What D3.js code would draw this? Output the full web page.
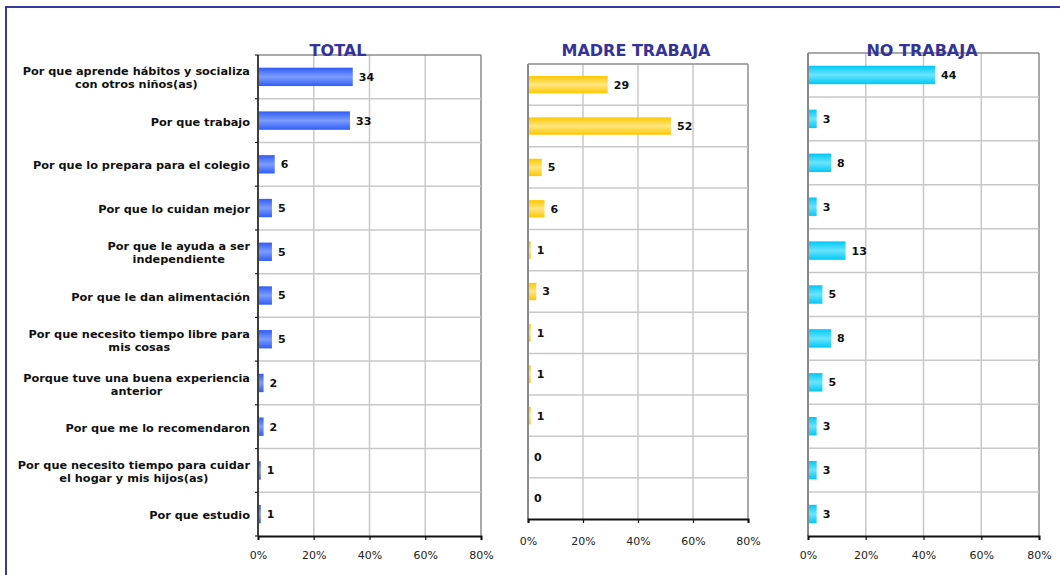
<!DOCTYPE html>
<html><head><meta charset="utf-8">
<script src="https://cdn.jsdelivr.net/npm/d3@7"></script>
<style>body{margin:0;background:#fff;} svg{display:block;}</style>
</head><body>
<svg id="c" width="1060" height="575"></svg>
<script>
const categories = [
  ["Por que aprende hábitos y socializa","con otros niños(as)"],
  ["Por que trabajo"],
  ["Por que lo prepara para el colegio"],
  ["Por que lo cuidan mejor"],
  ["Por que le ayuda a ser","independiente"],
  ["Por que le dan alimentación"],
  ["Por que necesito tiempo libre para","mis cosas"],
  ["Porque tuve una buena experiencia","anterior"],
  ["Por que me lo recomendaron"],
  ["Por que necesito tiempo para cuidar","el hogar y mis hijos(as)"],
  ["Por que estudio"]
];
const totalValues = [34, 33, 6, 5, 5, 5, 5, 2, 2, 1, 1];
const madreValues = [29, 52, 5, 6, 1, 3, 1, 1, 1, 0, 0];
const noTrabajaValues = [44, 3, 8, 3, 13, 5, 8, 5, 3, 3, 3];
const tickValues = [0, 20, 40, 60, 80];
const titles = ["TOTAL", "MADRE TRABAJA", "NO TRABAJA"];

const svg = d3.select("#c");
const defs = svg.append("defs");
function grad(id, dark, light){
  const g = defs.append("linearGradient").attr("id", id).attr("x1",0).attr("y1",0).attr("x2",0).attr("y2",1);
  g.append("stop").attr("offset","0%").attr("stop-color",dark);
  g.append("stop").attr("offset","50%").attr("stop-color",light);
  g.append("stop").attr("offset","100%").attr("stop-color",dark);
}
grad("gBlue", "#2f5cf6", "#7c9cff");
grad("gYellow", "#ffc800", "#ffe680");
grad("gCyan", "#00c8f8", "#6ae4ff");

// outer frame
svg.append("rect").attr("x",6).attr("y",7).attr("width",1070).attr("height",600)
  .attr("fill","none").attr("stroke","#3a3a9c").attr("stroke-width",2);

const panels = [
  {vals: totalValues, x0:258, x1:481, y0:55, y1:536, fill:"url(#gBlue)", title:titles[0], tx:338, ty:56, tickY:559, leftTicks:true, leftColor:"#404040"},
  {vals: madreValues, x0:528, x1:748, y0:64, y1:519, fill:"url(#gYellow)", title:titles[1], tx:636, ty:56, tickY:545, leftTicks:false, leftColor:"#888"},
  {vals: noTrabajaValues, x0:808, x1:1039, y0:53, y1:536, fill:"url(#gCyan)", title:titles[2], tx:922, ty:56, tickY:559, leftTicks:false, leftColor:"#888"}
];

panels.forEach((p, pi) => {
  const x = d3.scaleLinear().domain([0, 80]).range([p.x0, p.x1]);
  const y = d3.scaleBand().domain(d3.range(categories.length)).range([p.y0, p.y1]).paddingInner(0.58).paddingOuter(0.29);
  const yb = d3.scaleBand().domain(d3.range(categories.length)).range([p.y0, p.y1]);
  const g = svg.append("g");
  g.selectAll("line.vg").data(tickValues.slice(1)).enter().append("line")
    .attr("x1", d=>x(d)).attr("x2", d=>x(d)).attr("y1", p.y0).attr("y2", p.y1)
    .attr("stroke", d => d===80 ? "#8c8c8c" : "#c8c8c8").attr("stroke-width", 1.5);
  g.selectAll("line.hg").data(d3.range(categories.length)).enter().append("line")
    .attr("x1", p.x0).attr("x2", p.x1).attr("y1", d=>yb(d)).attr("y2", d=>yb(d))
    .attr("stroke", d => d===0 ? "#8c8c8c" : "#c8c8c8").attr("stroke-width", 1.5);
  g.selectAll("rect.bar").data(p.vals).enter().append("rect")
    .attr("x", x(0)).attr("y", (d,i)=>y(i)).attr("height", y.bandwidth())
    .attr("width", d=>x(d)-x(0)).attr("fill", p.fill);
  g.selectAll("text.val").data(p.vals).enter().append("text")
    .attr("x", d=>x(d)+6).attr("y", (d,i)=>y(i)+y.bandwidth()/2).attr("dy","0.36em")
    .attr("font-family","DejaVu Sans").attr("font-weight","bold").attr("font-size",11)
    .attr("fill","#111").text(d=>d);
  g.append("line").attr("x1",p.x0).attr("x2",p.x0).attr("y1",p.y0).attr("y2",p.y1)
    .attr("stroke",p.leftColor).attr("stroke-width",2);
  if (p.leftTicks){
    g.selectAll("line.lt").data(d3.range(categories.length+1)).enter().append("line")
      .attr("x1",p.x0-3).attr("x2",p.x0).attr("y1", d=>p.y0 + d*yb.step()).attr("y2", d=>p.y0 + d*yb.step())
      .attr("stroke","#222").attr("stroke-width",1.2);
  }
  const ax = d3.axisBottom(x).tickValues(tickValues).tickSize(4).tickFormat(d=>d+"%");
  const axg = svg.append("g").attr("transform",`translate(0,${p.y1})`).call(ax);
  axg.select(".domain").attr("stroke","#111").attr("stroke-width",2);
  axg.selectAll(".tick line").attr("stroke","#111").attr("stroke-width",1.2);
  axg.selectAll(".tick text").attr("font-family","DejaVu Sans").attr("font-size",11).attr("fill","#222")
    .attr("y", p.tickY - p.y1).attr("dy", 0);
  svg.append("text").attr("x",p.tx).attr("y",p.ty).attr("text-anchor","middle")
    .attr("font-family","DejaVu Sans").attr("font-weight","bold").attr("font-size",16)
    .attr("fill","#333399").text(p.title);
});

const p0 = panels[0];
const yl = d3.scaleBand().domain(d3.range(categories.length)).range([p0.y0, p0.y1]);
const lineH = 13;
categories.forEach((lines, i) => {
  const t = svg.append("text").attr("font-family","DejaVu Sans").attr("font-weight","bold")
    .attr("font-size",11.3).attr("fill","#111").attr("text-anchor","middle");
  const cy = yl(i) + yl.bandwidth()/2 + 1;
  const spans = lines.map((s, k) => t.append("tspan").text(s)
    .attr("y", cy + (k - (lines.length-1)/2)*lineH).attr("dy","0.36em"));
  const w = d3.max(spans, s => s.node().getComputedTextLength());
  spans.forEach(s => s.attr("x", 250 - w/2));
});
</script>
</body></html>
